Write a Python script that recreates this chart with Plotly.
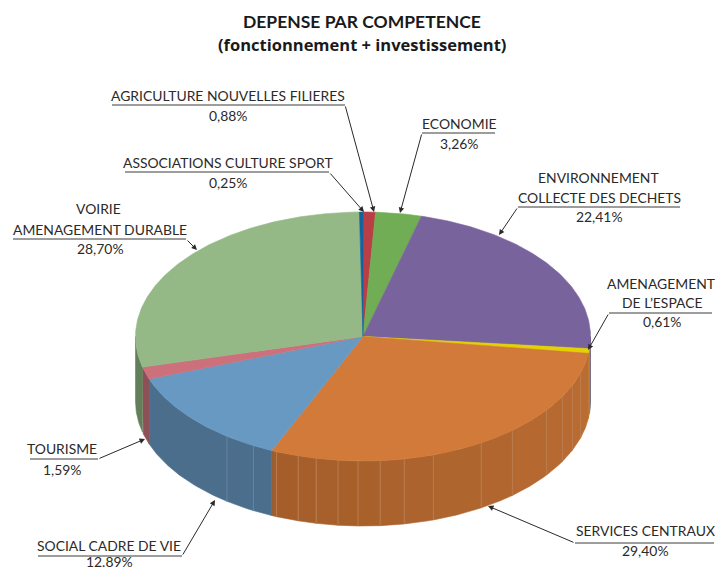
import numpy as np
import plotly.graph_objects as go

# ---- data (clockwise from 12 o'clock) ----
categories = ["AGRICULTURE NOUVELLES FILIERES", "ECONOMIE", "ENVIRONNEMENT COLLECTE DES DECHETS",
              "AMENAGEMENT DE L'ESPACE", "SERVICES CENTRAUX", "SOCIAL CADRE DE VIE",
              "TOURISME", "VOIRIE AMENAGEMENT DURABLE", "ASSOCIATIONS CULTURE SPORT"]
values = [0.88, 3.26, 22.41, 0.61, 29.40, 12.89, 1.59, 28.70, 0.25]
pct_text = ["0,88%", "3,26%", "22,41%", "0,61%", "29,40%", "12.89%", "1,59%", "28,70%", "0,25%"]
top_colors = ["#B83F46", "#70AD55", "#78639C", "#E4D200", "#D27A39", "#6899C3", "#CC707C", "#94B986", "#14639F"]
side_colors = ["#8A3035", "#54823F", "#5A4A75", "#A89C00", "#AE642E", "#4B6E8D", "#8F4F57", "#637F5A", "#0F4A77"]
# cumulative-percent positions of the facet lines on the rim
facet_orange = [29.7, 31.4, 33.0, 35.05, 38.6, 41.3, 45.0, 47.1, 48.8, 50.35, 51.75, 53.3, 54.6, 56.2]
facet_blue = [58.0, 60.2]

# ---- geometry of the drawing ----
W, H = 727, 569
cx, cy, rx, ry, depth = 363, 336.5, 227.5, 124.5, 65
total = sum(values)
edges = np.concatenate([[0], np.cumsum(values)]) / total * 100


def arc(p0, p1, dy=0.0, n=None):
    n = n or max(3, int(abs(p1 - p0) * 6))
    t = np.linspace(p0, p1, n) / 100 * 2 * np.pi
    return cx + rx * np.sin(t), cy - ry * np.cos(t) + dy


def mix(a, b, f):
    ca = [int(a[i:i + 2], 16) for i in (1, 3, 5)]
    cb = [int(b[i:i + 2], 16) for i in (1, 3, 5)]
    return "#%02X%02X%02X" % tuple(round(x + (y - x) * f) for x, y in zip(ca, cb))


fig = go.Figure()


def poly(xs, ys, color, name):
    fig.add_trace(go.Scatter(x=xs, y=ys, fill="toself", fillcolor=color, mode="lines",
                             line=dict(color=color, width=0.6), hoverinfo="skip",
                             name=name, showlegend=False))


def strip(p0, p1, color, name):
    x0, y0 = arc(p0, p1)
    x1, y1 = arc(p1, p0, depth)
    poly(np.r_[x0, x1, x0[0]], np.r_[y0, y1, y0[0]], color, name)


# side wall, only the part facing the viewer (25% .. 75%)
for i, name in enumerate(categories):
    a, b = max(edges[i], 25), min(edges[i + 1], 75)
    if a >= b:
        continue
    cuts = [a, b]
    if i == 4:
        cuts = [a] + facet_orange + [b]
    if i == 5:
        cuts = [a] + facet_blue + [b]
    for j in range(len(cuts) - 1):
        col = side_colors[i]
        if i == 4:
            f = (cuts[j] - a) / (b - a)
            col = mix("#BB6C33", "#A35D29", f)
        strip(cuts[j], cuts[j + 1], col, name)
    for c in cuts[1:-1]:
        xt, yt = arc(c, c, 0, 2)
        light = mix(side_colors[i], "#FFFFFF", 0.16)
        fig.add_trace(go.Scatter(x=[xt[0], xt[0]], y=[yt[0], yt[0] + depth], mode="lines",
                                 line=dict(color=light, width=1), hoverinfo="skip", showlegend=False))

# top face
for i, name in enumerate(categories):
    x0, y0 = arc(edges[i], edges[i + 1])
    poly(np.r_[cx, x0, cx], np.r_[cy, y0, cy], top_colors[i], name)

# ---- labels ----
FONT = "Lato"
TXT = "#2B2A29"
labels = [
    ("AGRICULTURE NOUVELLES FILIERES", 228, 95), (pct_text[0], 228, 115),
    ("ASSOCIATIONS CULTURE SPORT", 228, 162), (pct_text[8], 228, 182),
    ("ECONOMIE", 459, 123), (pct_text[1], 459, 143),
    ("ENVIRONNEMENT", 598, 177), ("COLLECTE DES DECHETS", 599, 197), (pct_text[2], 599, 216),
    ("AMENAGEMENT", 661, 283), ("DE L\u2019ESPACE", 662, 302), (pct_text[3], 662, 321),
    ("VOIRIE", 98, 208), ("AMENAGEMENT DURABLE", 100, 229), (pct_text[7], 100, 248),
    ("TOURISME", 62, 448), (pct_text[6], 62, 469),
    ("SOCIAL CADRE DE VIE", 109, 545), (pct_text[5], 109, 561.5),
    ("SERVICES CENTRAUX", 645, 530), (pct_text[4], 645, 550),
]
ann = [dict(x=x, y=y, text=t, showarrow=False, xanchor="center", yanchor="middle",
            font=dict(family=FONT, size=13.9, color=TXT)) for t, x, y in labels]
ann += [dict(x=362, y=21, text="DEPENSE PAR COMPETENCE", showarrow=False,
             font=dict(family=FONT, size=17.5, color="#1A1A1A", weight="bold")),
        dict(x=362, y=44, text="(fonctionnement + investissement)", showarrow=False,
             font=dict(family="Open Sans", size=16.5, color="#1A1A1A", weight="bold"))]

# underline (x0, x1, y) with leader start side and arrow tip
leaders = [
    (112, 345, 105, 345, 374, 212),
    (125, 329, 172, 329, 364, 212),
    (422, 495, 133, 422, 400, 213),
    (518, 680, 207, 518, 499, 235),
    (609, 712, 313, 609, 588, 350),
    (13, 186, 239, 186, 197, 250),
    (30, 98, 459, 98, 145, 439),
    (38, 182, 556, 182, 215, 500),
    (575, 714, 543, 575, 488, 506),
]
shapes = []
for x0, x1, y, xs, xt, yt in leaders:
    shapes.append(dict(type="line", x0=x0, x1=x1, y0=y, y1=y, xref="x", yref="y",
                       line=dict(color="#3A3A3A", width=1)))
    ann.append(dict(x=xt, y=yt, ax=xs, ay=y, axref="x", ayref="y", xref="x", yref="y", text="",
                    showarrow=True, arrowhead=2, arrowsize=1.1, arrowwidth=1, arrowcolor="#2B2A29"))

fig.update_layout(
    width=W, height=H, margin=dict(l=0, r=0, t=0, b=0),
    paper_bgcolor="white", plot_bgcolor="white", showlegend=False,
    xaxis=dict(range=[0, W], visible=False, fixedrange=True),
    yaxis=dict(range=[H, 0], visible=False, fixedrange=True),
    annotations=ann, shapes=shapes,
)
fig.write_html("out.html", config={"displayModeBar": False},
               post_script="document.body.style.margin='0';document.body.style.overflow='hidden';")
